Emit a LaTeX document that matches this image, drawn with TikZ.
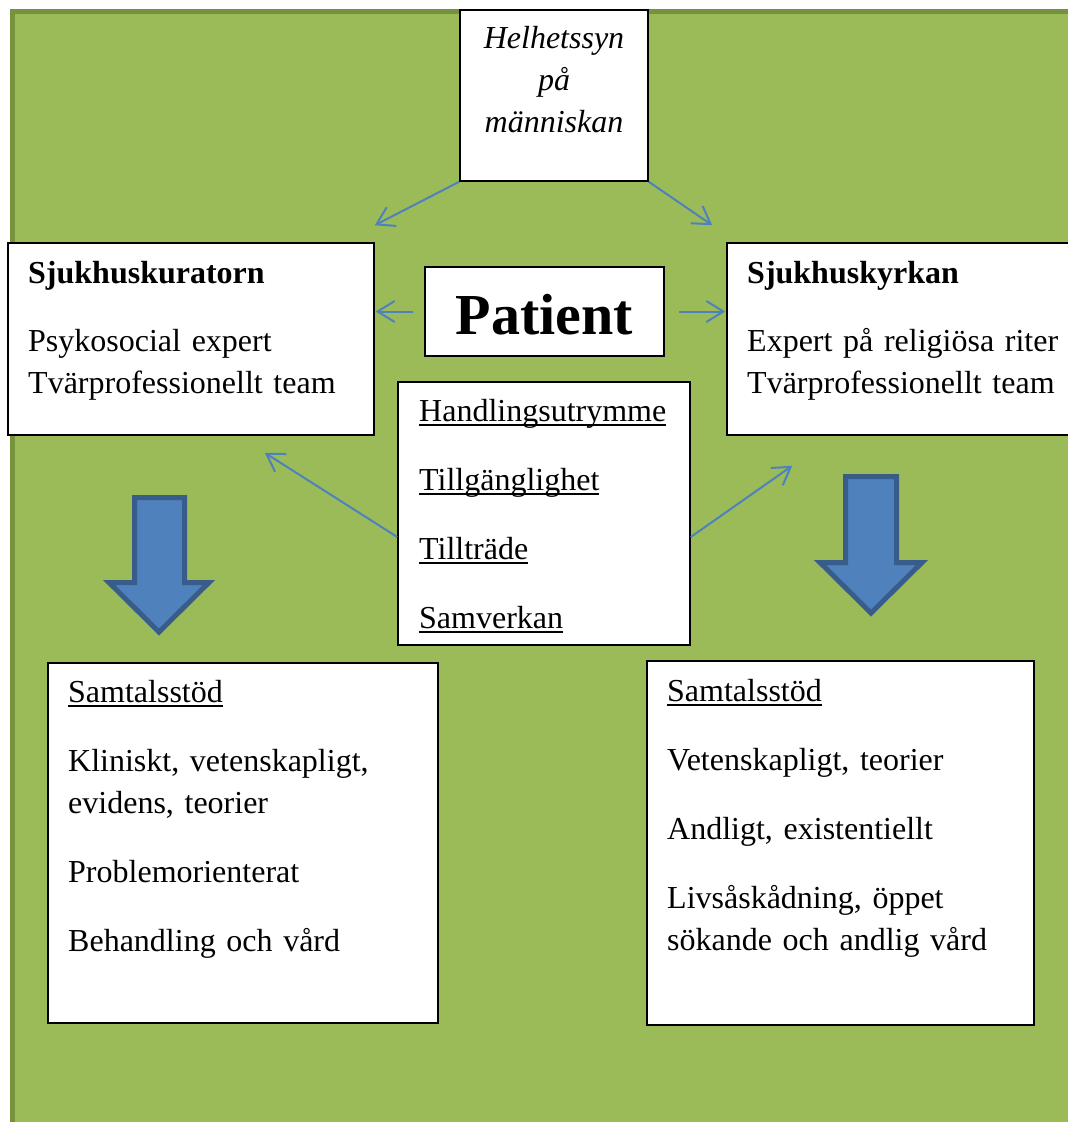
\documentclass[tikz,border=0pt]{standalone}
\usepackage{fontspec}
\setmainfont{Liberation Serif}
\usetikzlibrary{arrows.meta}
\definecolor{bakgrund}{HTML}{9BBB59}
\definecolor{bakkant}{HTML}{76923C}
\definecolor{pilbla}{HTML}{4F81BD}
\definecolor{pilkant}{HTML}{385D8A}
\newcommand{\ustr}[1]{\leavevmode\setbox0\hbox{#1}\rlap{\rule[-5pt]{\wd0}{1.6pt}}\box0}
\frenchspacing

\begin{document}
\begin{tikzpicture}[x=1pt,y=-1pt,
  ruta/.style={draw=black,line width=1.5pt,fill=white,inner sep=0pt},
  brod/.style={font=\fontsize{32}{42}\selectfont,align=left,inner sep=0pt,anchor=base west},
  tunn/.style={draw=pilbla,line width=2pt,-{Straight Barb[length=17pt,width=21pt]}},
  blockpil/.style={fill=pilbla,draw=pilkant,line width=5pt,line join=miter}]
\useasboundingbox (0,0) rectangle (1068,1122);
\clip (0,0) rectangle (1068,1122);
\draw[draw=bakkant,fill=bakgrund,line width=5pt] (12.5,11.5) rectangle (1100,1150);

\node[ruta,minimum width=188pt,minimum height=171pt] (helhet) at (554,95.5) {};
\node[ruta,minimum width=366pt,minimum height=192pt] (kurator) at (191,339) {};
\node[ruta,minimum width=239pt,minimum height=89pt] (patient) at (544.5,311.5) {};
\node[ruta,minimum width=358pt,minimum height=192pt] (kyrkan) at (906,339) {};
\node[ruta,minimum width=292pt,minimum height=263pt] (mitt) at (544,513.5) {};
\node[ruta,minimum width=390pt,minimum height=360pt] (stodK) at (243,843) {};
\node[ruta,minimum width=387pt,minimum height=364pt] (stodS) at (840.5,843) {};

\node[brod,text width=180pt,align=center,anchor=base,font=\fontsize{32}{42}\selectfont\itshape]
  (helhetText) at (554,48) {Helhetssyn\\ på\\ människan};
\node[inner sep=0pt,anchor=base,font=\fontsize{58}{60}\selectfont\bfseries]
  (patientText) at (544.5,334) {Patient};
\node[brod,text width=340pt] (kuratorText) at (28,283)
  {\textbf{Sjukhuskuratorn}\\[26pt] Psykosocial expert\\ Tvärprofessionellt team};
\node[brod,text width=330pt] (kyrkanText) at (747,283)
  {\textbf{Sjukhuskyrkan}\\[26pt] Expert på religiösa riter\\ Tvärprofessionellt team};
\node[brod,text width=270pt] (mittText) at (419,421)
  {\ustr{Handlingsutrymme}\\[27pt] \ustr{Tillgänglighet}\\[27pt] \ustr{Tillträde}\\[27pt] \ustr{Samverkan}};
\node[brod,text width=360pt] (stodKText) at (68,702)
  {\ustr{Samtalsstöd}\\[27pt] Kliniskt, vetenskapligt,\\ evidens, teorier\\[27pt] Problemorienterat\\[27pt] Behandling och vård};
\node[brod,text width=360pt] (stodSText) at (667,701)
  {\ustr{Samtalsstöd}\\[27pt] Vetenskapligt, teorier\\[27pt] Andligt, existentiellt\\[27pt] Livsåskådning, öppet\\ sökande och andlig vård};

\draw[tunn] (helhet.south west) -- ([yshift=17pt]kurator.north east);
\draw[tunn] (helhet.south east) -- ([shift={(-14pt,17pt)}]kyrkan.north west);
\draw[tunn,shorten <=11pt,shorten >=1pt] (patient.west) -- (patient.west -| kurator.east);
\draw[tunn,shorten <=14pt,shorten >=1pt] (patient.east) -- (patient.east -| kyrkan.west);
\draw[tunn] ([yshift=-23.5pt]mitt.west) -- ([shift={(-110pt,-17pt)}]kurator.south east);
\draw[tunn] ([yshift=-23.5pt]mitt.east) -- ([shift={(66pt,-30pt)}]kyrkan.south west);

\draw[blockpil] (134.5,497.5) -- (184.5,497.5) -- (184.5,582.5) -- (209,582.5)
  -- (159,632) -- (109,582.5) -- (134.5,582.5) -- cycle;
\draw[blockpil] (845.5,476.5) -- (896.5,476.5) -- (896.5,562.5) -- (922,562.5)
  -- (871,613) -- (820,562.5) -- (845.5,562.5) -- cycle;
\end{tikzpicture}
\end{document}
